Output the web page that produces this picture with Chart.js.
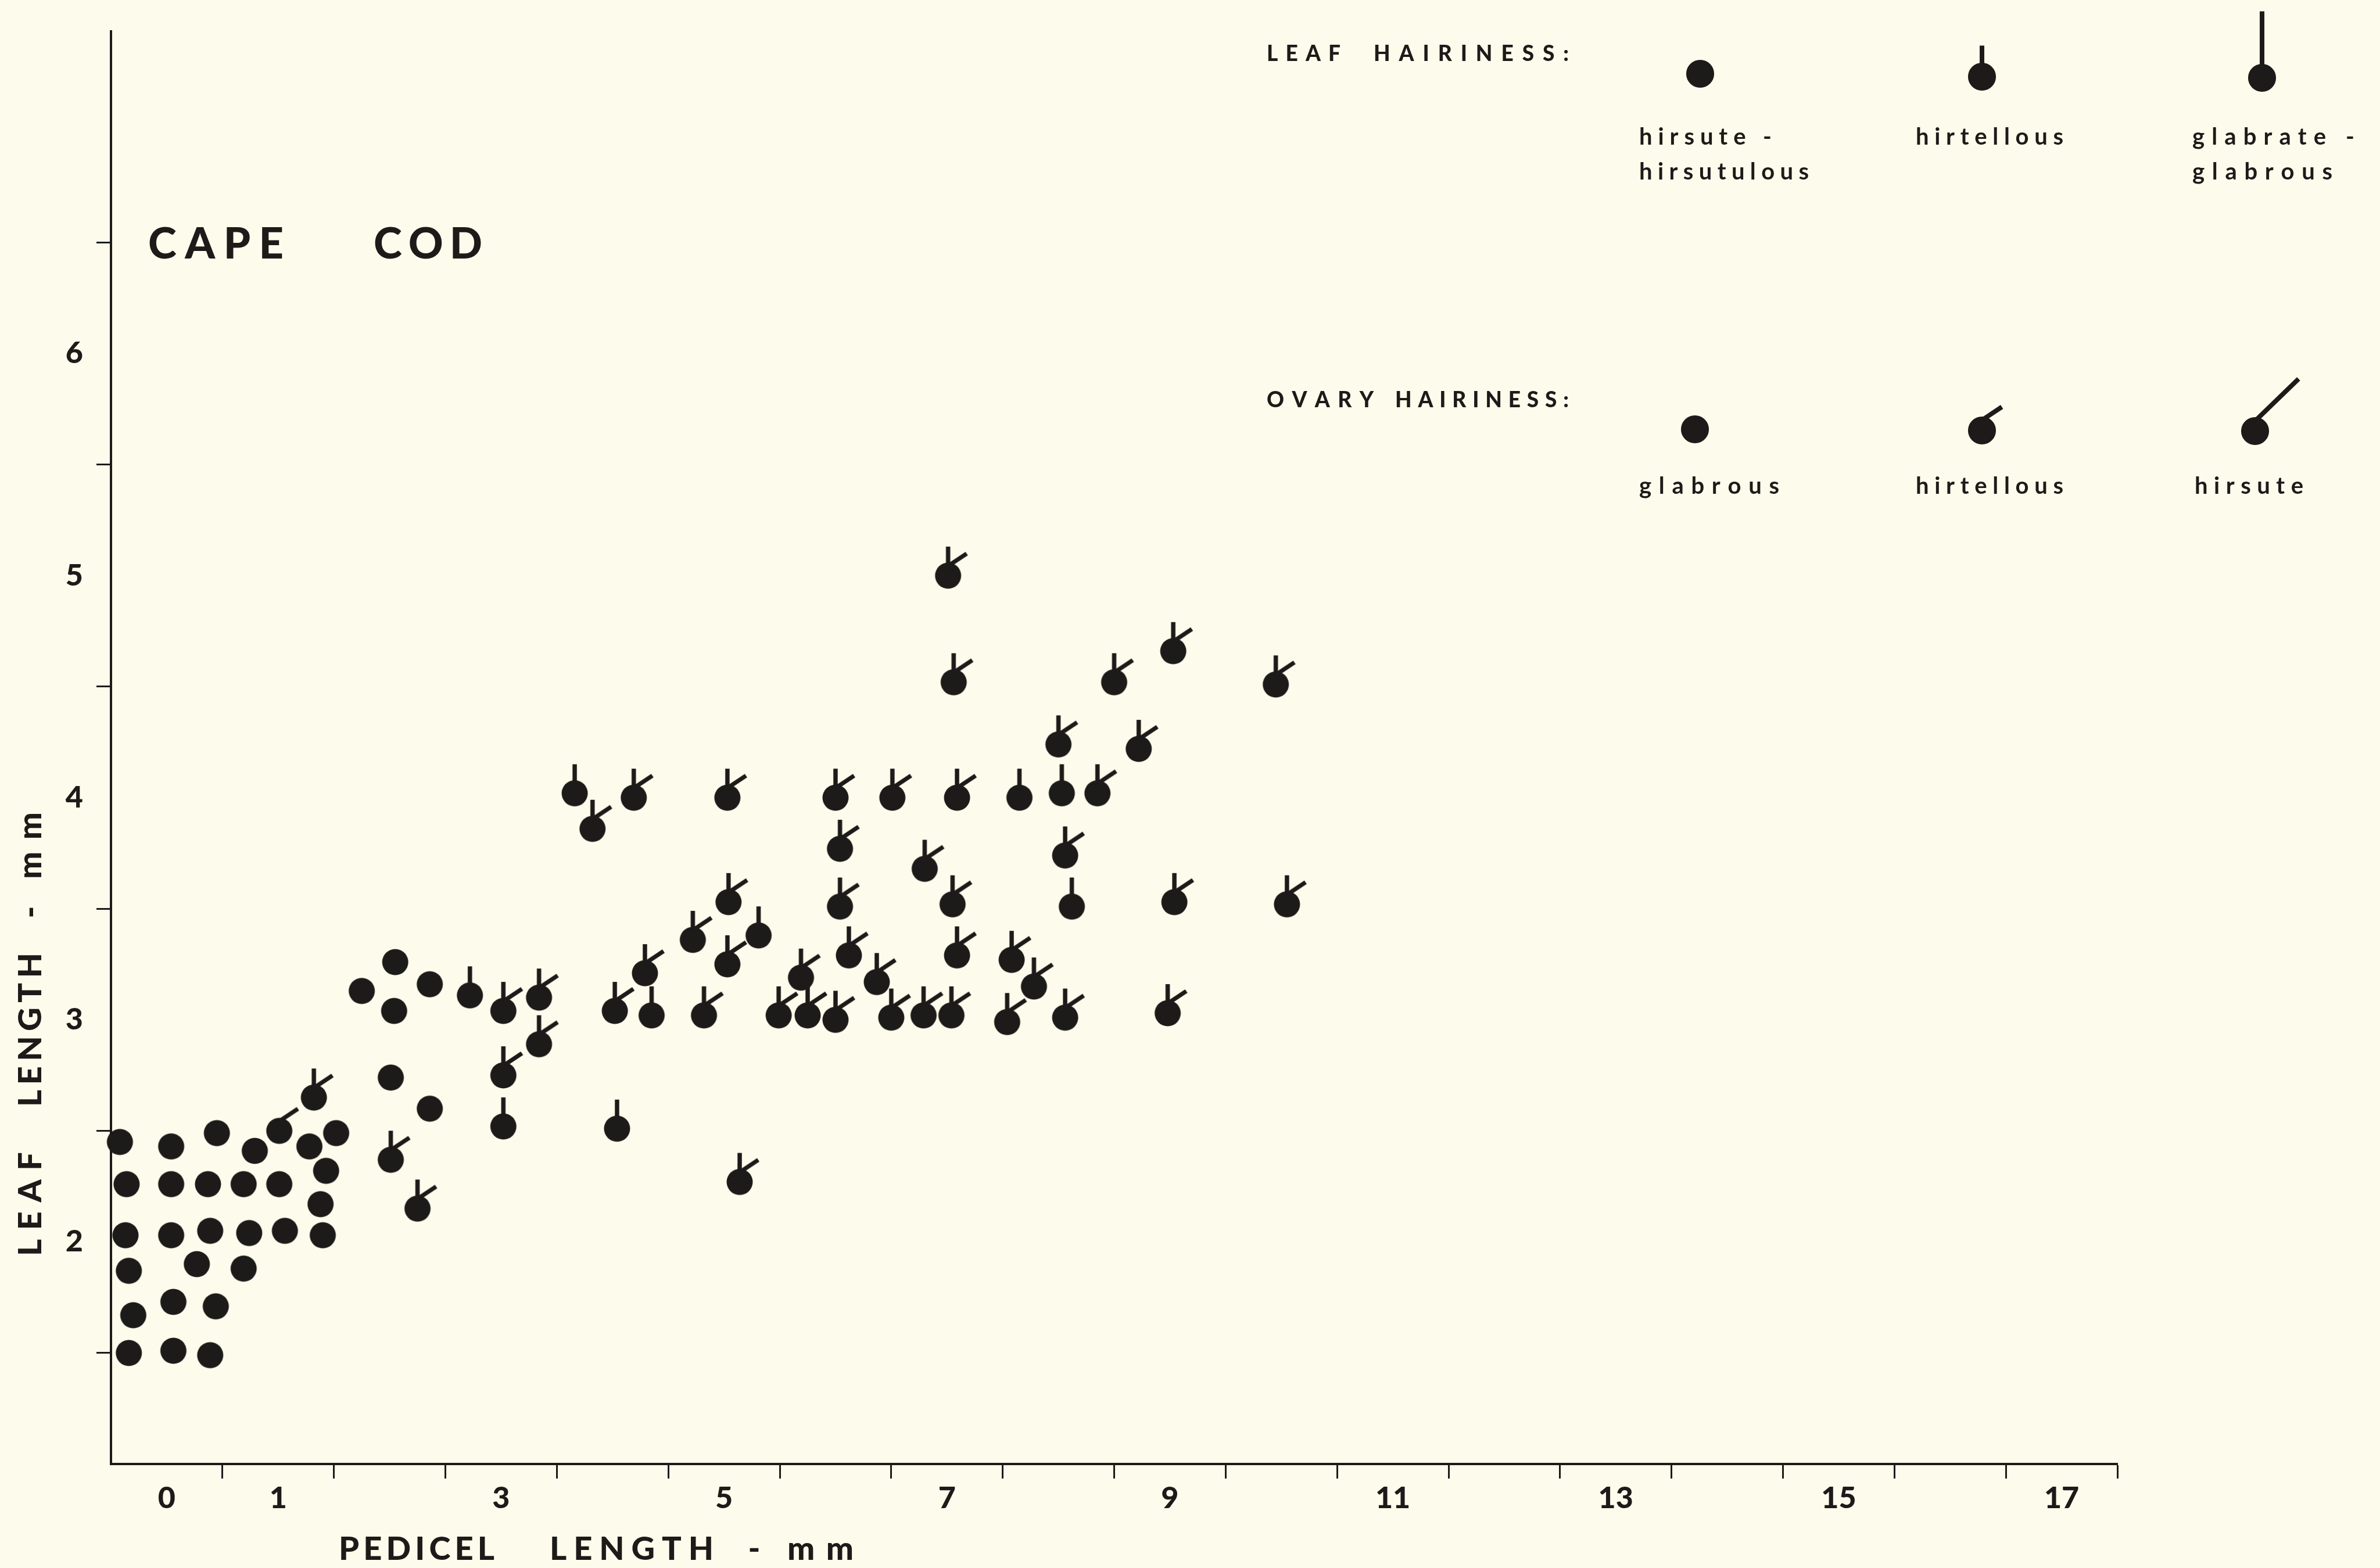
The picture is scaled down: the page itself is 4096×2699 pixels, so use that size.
<!DOCTYPE html>
<html>
<head>
<meta charset="utf-8">
<script src="https://cdn.jsdelivr.net/npm/chart.js@4/dist/chart.umd.min.js"></script>
<style>
  html, body { margin: 0; padding: 0; background: #fdfcec; }
  #wrap { width: 4096px; height: 2699px; }
</style>
</head>
<body>
<div id="wrap"><canvas id="myChart" width="4096" height="2699"></canvas></div>
<script>
// Cape Cod: pedicel length vs leaf length (mm), glyph = leaf / ovary hairiness

// leaf hirsute-hirsutulous, ovary glabrous (plain dot)
const plainPedicel = [-0.42, 0.04, 0.45, 0.79, 1.28, 1.52, 1.43,
  -0.36, 0.04, 0.37, 0.69, 1.01, 1.38,
  -0.37, 0.04, 0.39, 0.74, 1.06, 1.40,
  -0.34, 0.27, 0.69,
  -0.30, 0.06, 0.44,
  -0.34, 0.06, 0.39,
  1.75, 2.05, 2.04, 2.36, 2.01, 2.36];
const plainLeaf = [2.45, 2.43, 2.49, 2.41, 2.43, 2.49, 2.32,
  2.26, 2.26, 2.26, 2.26, 2.26, 2.17,
  2.03, 2.03, 2.05, 2.04, 2.05, 2.03,
  1.87, 1.90, 1.88,
  1.67, 1.73, 1.71,
  1.50, 1.51, 1.49,
  3.13, 3.26, 3.04, 3.16, 2.74, 2.60];

// leaf hirtellous, ovary glabrous
const leafHirtPedicel = [2.72, 3.02, 4.04, 4.35, 5.31, 3.66, 7.65, 8.03, 8.12];
const leafHirtLeaf = [3.11, 2.52, 2.51, 3.02, 3.38, 4.02, 4.00, 4.02, 3.51];

// leaf hirsute, ovary hirtellous
const ovaryHirtPedicel = [1.01];
const ovaryHirtLeaf = [2.50];

// leaf hirtellous, ovary hirtellous
const bothHirtPedicel = [1.32, 2.01, 2.25, 3.02, 3.34, 3.34, 3.02, 5.14,
  3.82, 4.19, 5.03,
  4.02, 4.29, 4.72, 4.82, 5.03, 5.04,
  5.69, 5.49, 5.75, 6.00, 6.37, 6.50, 6.79, 7.04, 7.54, 8.06, 8.98,
  6.04, 6.04, 6.12, 7.05, 7.09, 7.58, 7.78, 6.80, 8.06, 9.04, 10.05,
  6.00, 6.51, 7.09, 8.35,
  8.00, 8.72, 7.06, 8.50, 9.03, 9.95, 7.01];
const bothHirtLeaf = [2.65, 2.37, 2.15, 3.04, 3.10, 2.89, 2.75, 2.27,
  3.86, 4.00, 4.00,
  3.04, 3.21, 3.36, 3.02, 3.25, 3.53,
  3.19, 3.02, 3.02, 3.00, 3.17, 3.01, 3.02, 3.02, 2.99, 3.01, 3.03,
  3.77, 3.51, 3.29, 3.52, 3.29, 3.27, 3.15, 3.68, 3.74, 3.53, 3.52,
  4.00, 4.00, 4.00, 4.02,
  4.24, 4.22, 4.52, 4.52, 4.66, 4.51, 5.00];

const xTickMarks = [0.5, 1.5, 2.5, 3.5, 4.5, 5.5, 6.5, 7.5, 8.5, 9.5, 10.5, 11.5, 12.5, 13.5, 14.5, 15.5, 16.5, 17.5];
const xTickLabels = [0, 1, 3, 5, 7, 9, 11, 13, 15, 17];
const yTickMarks = [1.5, 2.5, 3.5, 4.5, 5.5, 6.5];
const yTickLabels = [2, 3, 4, 5, 6];

const ink = '#1c1b19';
const paper = '#fdfcec';
const TRANSPARENT = 'rgba(0,0,0,0)';

Chart.defaults.font.family = 'Lato';
Chart.defaults.color = ink;

// dot + optional leaf stem (vertical) + optional ovary stem (diagonal)
// leaf/ovary: 0 none, 1 short (hirtellous), 2 long
function makeGlyph(leaf, ovary, k) {
    let size = Math.round(240 * k / 2) * 2;
    let cnv = document.createElement('canvas');
    cnv.width = size;
    cnv.height = size;
    let g = cnv.getContext('2d');
    let cx = size / 2, cy = size / 2;
    g.fillStyle = ink;
    g.strokeStyle = ink;
    g.lineWidth = 7.5 * k;
    g.lineCap = 'butt';
    if (leaf > 0) {
        let len = (leaf == 1 ? 50 : 107) * k;
        g.beginPath();
        g.moveTo(cx, cy);
        g.lineTo(cx, cy - len);
        g.stroke();
    }
    if (ovary > 0) {
        let end = ovary == 1 ? [32, -38] : [70, -84];
        g.beginPath();
        g.moveTo(cx + 2 * k, cy - 18 * k);
        g.lineTo(cx + end[0] * k, cy + end[1] * k);
        g.stroke();
    }
    g.beginPath();
    g.arc(cx, cy, 22.5 * k, 0, Math.PI * 2);
    g.fill();
    return cnv;
}

function zip(xs, ys) {
    return xs.map((x, i) => ({ x: x, y: ys[i] }));
}

// draw text so that it spans x0..x1, letter-spaced like the original lettering
function spaced(ctx, text, x0, x1, y, centred) {
    let chars = [...text];
    let widths = chars.map(ch => ctx.measureText(ch).width);
    let natural = widths.reduce((a, b) => a + b, 0);
    let base = y;
    if (centred) {
        let m = ctx.measureText('H');
        base = y + m.actualBoundingBoxAscent / 2;
    }
    if (chars.length == 1) {
        ctx.fillText(text, (x0 + x1) / 2 - natural / 2, base);
        return;
    }
    let gap = (x1 - x0 - natural) / (chars.length - 1);
    let x = x0;
    chars.forEach((ch, i) => {
        ctx.fillText(ch, x, base);
        x += widths[i] + gap;
    });
}

const groups = [
    { xs: plainPedicel, ys: plainLeaf, leaf: 0, ovary: 0 },
    { xs: leafHirtPedicel, ys: leafHirtLeaf, leaf: 1, ovary: 0 },
    { xs: ovaryHirtPedicel, ys: ovaryHirtLeaf, leaf: 0, ovary: 1 },
    { xs: bothHirtPedicel, ys: bothHirtLeaf, leaf: 1, ovary: 1 }
];

const datasets = groups.map(grp => ({
    data: zip(grp.xs, grp.ys),
    pointStyle: makeGlyph(grp.leaf, grp.ovary, 1),
    pointRadius: 20,
    pointHoverRadius: 20,
    clip: false
}));

const legendKeys = [
    { leaf: 0, ovary: 0, x: 2926, y: 127 },
    { leaf: 1, ovary: 0, x: 3411, y: 132 },
    { leaf: 2, ovary: 0, x: 3893, y: 134 },
    { leaf: 0, ovary: 0, x: 2917, y: 739 },
    { leaf: 0, ovary: 1, x: 3411, y: 741 },
    { leaf: 0, ovary: 2, x: 3881, y: 742 }
];

const textPlugin = {
    id: 'capeCodText',
    beforeDraw(chart) {
        let c = chart.ctx;
        c.save();
        c.fillStyle = paper;
        c.fillRect(0, 0, chart.width, chart.height);
        c.restore();
    },
    afterDraw(chart) {
        let c = chart.ctx;
        c.save();
        c.fillStyle = ink;
        c.textBaseline = 'alphabetic';
        c.textAlign = 'left';

        c.font = '900 74px Lato';
        spaced(c, 'CAPE', 255, 488, 418, true);
        spaced(c, 'COD', 643, 830, 418, true);

        // x axis title
        c.font = '900 56px Lato';
        spaced(c, 'PEDICEL', 583, 851, 2685, false);
        spaced(c, 'LENGTH', 946, 1228, 2685, false);
        spaced(c, '-', 1288, 1308, 2685, false);
        spaced(c, 'mm', 1355, 1469, 2685, false);

        // y axis title
        c.save();
        c.translate(71, 0);
        c.rotate(-Math.PI / 2);
        spaced(c, 'LEAF', -2162, -1983, 0, false);
        spaced(c, 'LENGTH', -1905, -1640, 0, false);
        spaced(c, '-', -1580, -1560, 0, false);
        spaced(c, 'mm', -1513, -1398, 0, false);
        c.restore();

        // legend
        c.font = '900 37px Lato';
        spaced(c, 'LEAF', 2180, 2307, 91, true);
        spaced(c, 'HAIRINESS:', 2364, 2700, 91, true);
        spaced(c, 'OVARY', 2180, 2364, 687, true);
        spaced(c, 'HAIRINESS:', 2401, 2700, 687, true);

        c.font = '700 40px Lato';
        spaced(c, 'hirsute -', 2821, 3049, 249, false);
        spaced(c, 'hirsutulous', 2821, 3113, 309, false);
        spaced(c, 'hirtellous', 3297, 3551, 249, false);
        spaced(c, 'glabrate -', 3773, 4052, 249, false);
        spaced(c, 'glabrous', 3773, 4014, 309, false);
        spaced(c, 'glabrous', 2821, 3062, 850, false);
        spaced(c, 'hirtellous', 3297, 3551, 850, false);
        spaced(c, 'hirsute', 3777, 3964, 850, false);

        legendKeys.forEach(key => {
            let img = makeGlyph(key.leaf, key.ovary, 1.07);
            c.drawImage(img, key.x - img.width / 2, key.y - img.height / 2);
        });
        c.restore();
    }
};

const tickFont = { family: 'Lato', weight: '900', size: 52 };

const config = {
    type: 'scatter',
    data: { datasets: datasets },
    options: {
        responsive: false,
        animation: false,
        devicePixelRatio: 1,
        events: [],
        layout: { padding: { top: 54, right: 452, left: 0, bottom: 0 } },
        plugins: {
            legend: { display: false },
            tooltip: { enabled: false }
        },
        scales: {
            x: {
                type: 'linear',
                min: -0.5,
                max: 17.5,
                afterBuildTicks: scale => {
                    scale.ticks = [...xTickMarks, ...xTickLabels]
                        .sort((a, b) => a - b)
                        .map(v => ({ value: v }));
                },
                afterFit: scale => { scale.height = 179; },
                ticks: {
                    autoSkip: false,
                    maxRotation: 0,
                    minRotation: 0,
                    padding: 3,
                    color: ink,
                    font: tickFont,
                    callback: v => xTickLabels.includes(v) ? String(v) : ''
                },
                grid: {
                    drawOnChartArea: false,
                    drawTicks: true,
                    tickLength: 25,
                    tickWidth: 3,
                    tickColor: c => (c.tick && xTickMarks.includes(c.tick.value)) ? ink : TRANSPARENT
                },
                border: { display: true, color: ink, width: 4 }
            },
            y: {
                type: 'linear',
                min: 1,
                max: 7.45,
                afterBuildTicks: scale => {
                    scale.ticks = [...yTickMarks, ...yTickLabels]
                        .sort((a, b) => a - b)
                        .map(v => ({ value: v }));
                },
                afterFit: scale => { scale.width = 191; },
                ticks: {
                    autoSkip: false,
                    padding: 23,
                    color: ink,
                    font: tickFont,
                    callback: v => yTickLabels.includes(v) ? String(v) : ''
                },
                grid: {
                    drawOnChartArea: false,
                    drawTicks: true,
                    tickLength: 25,
                    tickWidth: 3,
                    tickColor: c => (c.tick && yTickMarks.includes(c.tick.value)) ? ink : TRANSPARENT
                },
                border: { display: true, color: ink, width: 4 }
            }
        }
    },
    plugins: [textPlugin]
};

let myChart = new Chart(document.getElementById('myChart'), config);
</script>
</body>
</html>
